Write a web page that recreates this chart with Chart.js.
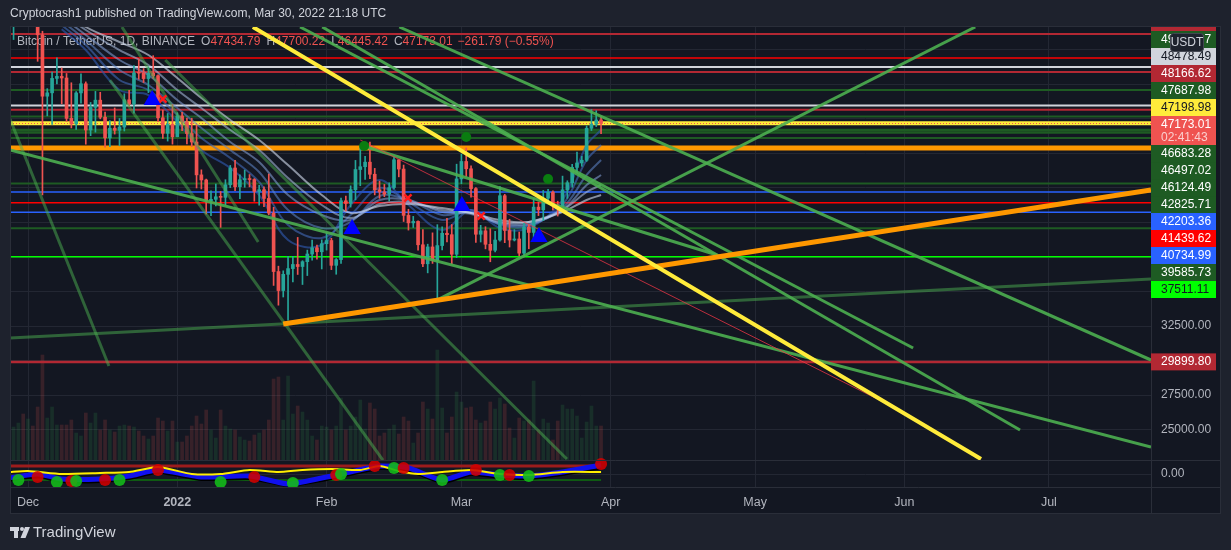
<!DOCTYPE HTML>
<html>
<head>
	<meta charset="utf-8">
	<title>BTCUSDT 1D</title>
	<script src="https://cdn.jsdelivr.net/npm/chart.js@4.4.1/dist/chart.umd.min.js"></script>
	<style>
		html, body { margin: 0; padding: 0; background: #1e222d; overflow: hidden; }
	</style>
</head>

<body>
	<canvas id="myChart" width="1231" height="550"></canvas>
	<script>
		// day 0 = 1 Dec 2021, first candle 27 Nov 2021
		const firstDay = -4;
		const opens = [53727, 54721, 57274, 57776,
			56950, 57184, 56480, 53601, 49152, 49396, 50441, 50588, 50471, 47545, 47140, 49389, 50053, 46702, 48343, 48864,
			47632, 46131, 46834, 46681, 46914, 48889, 48588, 50838, 50821, 50429, 50809, 50640, 47588, 46464, 47120,
			46216, 47722, 47286, 46446, 45832, 43451, 43082, 41566, 41679, 41864, 41822, 42735, 43949, 42591, 43099, 43177,
			43113, 42250, 42375, 41744, 40681, 36446, 35071, 36244, 36660, 36958, 36810, 37160, 37716, 38166, 37881,
			38466, 38694, 36896, 37311, 41574, 41382, 42380, 43839, 44042, 44372, 43495, 42373, 42217, 42053, 42535, 44544,
			43873, 40515, 39974, 40079, 38386, 37008, 38230, 37250, 38327, 39219, 39116, 37699,
			43160, 44421, 43892, 42454, 39148, 39397, 38420, 37988, 38730, 41941, 39422, 38729, 38807, 37777, 39671, 39280,
			41114, 40917, 41757, 42201, 41262, 41002, 42364, 42882, 43991, 44313, 44511, 46827, 47122, 47434];
		const highs = [55329, 57445, 58865, 59176,
			59041, 57400, 57600, 53859, 49699, 50900, 51936, 51200, 50797, 50125, 49485, 50777, 50189, 48700, 49500, 49436,
			48004, 47392, 48300, 47537, 49328, 49576, 51375, 51810, 51156, 51280, 52088, 50704, 48139, 47900, 48548,
			47954, 47990, 47570, 47557, 47070, 43816, 43145, 42300, 42786, 42248, 43100, 44135, 44500, 43448, 43800, 43475,
			43180, 42691, 42579, 43505, 41100, 36835, 36499, 37550, 37545, 38919, 37234, 38000, 38720, 38359, 38744,
			39265, 38855, 37387, 41772, 41913, 42656, 44500, 45492, 44799, 45821, 43920, 43000, 42760, 42876, 44751, 44549,
			44164, 40959, 40444, 40125, 39494, 38429, 39249, 39843, 39683, 40300, 39855, 44225,
			44949, 45400, 44101, 42527, 39794, 39693, 39547, 39362, 42594, 42039, 40236, 39486, 39310, 39947, 39856, 41720,
			41478, 42325, 42400, 42296, 41544, 43361, 43025, 44220, 45094, 44792, 46999, 48190, 48096, 47700];
		const lows = [53668, 53256, 56666, 55875,
			56458, 55837, 51680, 42000, 47727, 47100, 50039, 48600, 47320, 46852, 46751, 48638, 45672, 46290, 46547, 47511,
			45456, 45500, 46406, 45558, 46630, 48421, 47920, 50384, 50142, 49412, 50449, 47313, 46096, 45900, 45678,
			46208, 46654, 45696, 45500, 42500, 42430, 40610, 40501, 41200, 39650, 41268, 42528, 42311, 41725, 42555, 42581,
			41540, 41250, 41138, 40553, 35440, 34008, 34601, 32917, 35701, 36234, 35507, 36155, 37268, 37351, 36632,
			38000, 36586, 36250, 37026, 40843, 41116, 41645, 42666, 43117, 43174, 42000, 41748, 41870, 41570, 42427, 43307,
			40073, 39450, 39639, 38000, 36800, 36350, 37036, 34322, 38014, 38600, 37000, 37450,
			42809, 43334, 41832, 38550, 38585, 38088, 37155, 37867, 38656, 38540, 38223, 38660, 37578, 37555, 38098, 38828,
			40500, 40135, 41499, 40911, 40467, 40875, 41751, 42560, 43579, 44071, 44422, 46663, 46950, 46445];
		const closes = [54721, 57274, 57776, 56950,
			57184, 56480, 53601, 49152, 49396, 50441, 50588, 50471, 47545, 47140, 49389, 50053, 46702, 48343, 48864, 47632,
			46131, 46834, 46681, 46914, 48889, 48588, 50838, 50821, 50429, 50809, 50640, 47588, 46464, 47120, 46216,
			47722, 47286, 46446, 45832, 43451, 43082, 41566, 41679, 41864, 41822, 42735, 43949, 42591, 43099, 43177, 43113,
			42250, 42375, 41744, 40681, 36446, 35071, 36244, 36660, 36958, 36810, 37160, 37716, 38166, 37881, 38466,
			38694, 36896, 37311, 41574, 41382, 42380, 43839, 44042, 44372, 43495, 42373, 42217, 42053, 42535, 44544, 43873,
			40515, 39974, 40079, 38386, 37008, 38230, 37250, 38327, 39219, 39116, 37699, 43160,
			44421, 43892, 42454, 39148, 39397, 38420, 37988, 38730, 41941, 39422, 38729, 38807, 37777, 39671, 39280, 41114,
			40917, 41757, 42201, 41262, 41002, 42364, 42882, 43991, 44313, 44511, 46827, 47122, 47434, 47173.01];
		const volumes = [35, 33, 37, 46, 41, 34, 53, 105, 42, 53, 35, 35, 35, 40, 27, 24, 47, 37, 47, 30, 40, 30, 28, 34, 35,
			34, 33, 29, 24, 21, 24, 42, 39, 29, 39, 18, 18, 24, 34, 44, 36, 50, 30, 22, 50, 34, 31, 30, 23, 20, 19, 25,
			27, 30, 40, 81, 83, 40, 84, 46, 54, 48, 40, 24, 20, 34, 33, 30, 34, 62, 30, 34, 43, 60, 31, 57, 51, 24, 27,
			31, 35, 26, 43, 39, 17, 27, 58, 51, 41, 110, 52, 27, 43, 68, 58, 52, 53, 40, 37, 39, 58, 51, 62, 56, 32, 22,
			42, 39, 40, 79, 30, 41, 37, 20, 39, 55, 51, 51, 44, 22, 38, 54, 34, 34];

		const monthDays = [0, 31, 62, 90, 121, 151, 182, 212];
		const monthLabels = ['Dec', '2022', 'Feb', 'Mar', 'Apr', 'May', 'Jun', 'Jul'];
		const gridPrices = [25000, 27500, 30000, 32500, 35000, 37500, 40000, 42500, 45000, 47500, 50000, 52500];
		const shownTicks = [25000, 27500, 32500];

		// horizontal levels
		const levelPrices = [53659.40, 51920.15, 51267.33, 50905.88, 49601.07, 48478.49, 48166.62, 47687.98, 47198.98,
			46683.28, 46497.02, 46124.49, 45398.00, 42825.71, 42203.36, 41439.62, 40734.99, 39585.73, 37511.11, 29899.80];
		const levelColors = ['#b22833', '#ff0000', '#d1d4dc', '#b22833', '#1e5b23', '#d1d4dc', '#b22833', '#1e5b23', '#ffeb3b',
			'#1e5b23', '#1e5b23', '#1e5b23', '#ff9800', '#1e5b23', '#2962ff', '#ff0000', '#2962ff', '#1e5b23', '#00ff00', '#b22833'];
		const levelWidths = [2, 1.5, 2, 2, 2, 2, 2, 2, 4, 3, 2, 2, 5, 2, 1.5, 1.5, 1.5, 2, 1.5, 2.5];
		const levelLabelled = [1, 1, 1, 1, 1, 1, 1, 1, 1, 1, 1, 1, 0, 1, 1, 1, 1, 1, 1, 1];
		const lastPrice = 47173.01;
		const countdown = '02:41:43';

		// drawn trend lines: [day, price] end points
		const greenLines = [
			[[84.9, 34380], [196.7, 54166]],
			[[77.1, 54166], [233.2, 30036]],
			[[56.5, 54166], [183.8, 30906]],
			[[61.1, 54166], [206.0, 24964]],
			[[69.6, 45543], [143.1, 37645]],
			[[-3.74, 45253], [233.2, 23732]]
		];
		const dimGreenLines = [
			[[-3.74, 47499], [16.8, 29602]],
			[[17.0, 50325], [73.7, 22789]],
			[[19.5, 54166], [47.8, 38587]],
			[[28.5, 51774], [111.9, 22862]],
			[[-3.74, 31631], [233.2, 35906]]
		];
		const yellowLine = [[46.7, 54166], [197.9, 22861]];
		const orangeLine = [[53, 32645], [233.2, 42354]];
		const redLine = [[69, 45977], [180.1, 26557]];

		// moving average ribbon
		const ribbonDays = [7, 12, 19, 25, 31, 36, 42, 48, 54, 61, 67, 73, 79, 86, 92, 98, 104, 111, 116, 119];
		const ribbon1 = [55500, 54166, 53079, 52137, 50470, 49021, 47427, 45978, 44166, 41992, 40688, 41195, 41340, 41050, 40688, 40181, 40036, 40760, 41630, 41992];
		const ribbon2 = [55200, 53948, 52499, 51412, 49601, 48296, 46702, 45253, 43224, 41268, 40326, 41340, 41485, 40905, 40688, 40036, 40036, 40905, 42210, 42717];
		const ribbon3 = [54900, 53586, 51774, 50688, 48876, 47572, 45833, 44383, 41992, 40543, 40181, 41630, 41630, 40760, 40616, 39963, 39891, 40905, 42717, 43442];
		const ribbon4 = [54600, 53224, 51050, 49963, 48296, 46847, 45253, 43659, 40905, 39601, 40036, 41920, 41630, 40543, 40760, 39891, 39818, 41050, 43442, 44528];
		const ribbon5 = [54300, 52861, 50325, 49601, 47789, 46122, 44673, 42934, 39818, 38877, 40543, 42500, 41485, 40181, 40905, 39818, 39746, 41268, 44528, 45615];
		const ribbon6 = [54000, 52499, 49601, 49238, 47282, 45253, 43949, 41992, 38732, 38370, 41268, 43079, 41268, 39456, 40905, 39601, 39601, 41630, 45615, 46702];

		// signals
		const buyDays = [25.8, 67.3, 90.1, 106.1];
		const buyPrices = [48876, 39528, 41195, 38948];
		const sellDays = [28, 78.9, 94.1];
		const sellPrices = [48948, 41774, 40470];
		const dotDays = [69.8, 91, 108];
		const dotPrices = [45543, 46195, 43151];

		// lower oscillator
		const oscDays = [-4, 0, 7, 15, 21, 27, 34, 40, 46, 52, 57, 63, 69, 73, 77, 81, 86, 92, 98, 104, 111, 119];
		const oscYellow = [2, 3, 0, 1, 2, 7, 0, 0, 4, 2, 4, 5, 4, 8, 3, 0, 2, 4, 0, -1, 2, 2];
		const waveDays = [-4, 2, 7, 15, 21, 27, 36, 46, 54, 61, 66, 73, 79, 86, 92, 98, 104, 111, 119];
		const waveBlue = [-4, 0, -5, -5, -2, 4, -3, -2, -10, -4, 1, 8, 6, -6, 2, -1, -2, 2, 9];
		const waveBlack = [-7, -3, -8, -8, -5, 1, -6, -5, -12, -7, -2, 5, 3, -9, -1, -4, -5, -1, 6];
		const crossDays = [-2, 2, 6, 9, 10, 16, 19, 27, 40, 47, 55, 64, 65, 72, 76, 78, 86, 93, 98, 100, 104, 119];
		const crossVals = [-6, -3, -8, -7, -7, -6, -6, 4, -8, -3, -9, -1, 0, 8, 6, 6, -6, 4, -1, -1, -2, 10];
		const crossUp = [1, 0, 1, 0, 1, 0, 1, 0, 1, 0, 1, 0, 1, 0, 1, 0, 1, 0, 1, 0, 1, 0];
		const oscUpper = 8;
		const oscLower = -6;

		const xMin = -3.74, xMax = 233.2;
		const yMin = 20834, yMax = 54166;
		const gridColor = '#232733';
		const upColor = '#26a69a', downColor = '#ef5350';
		const fontFamily = '"Liberation Sans", Arial, sans-serif';

		const candleDays = opens.map((o, i) => firstDay + i);
		const isUp = closes.map((c, i) => c >= opens[i]);
		const pts = arr => arr.map(p => ({x: p[0], y: p[1]}));
		const zip = (xs, ys) => xs.map((x, i) => ({x: x, y: ys[i]}));

		function seg(points, color, width, order, axis) {
			return {
				type: 'line', data: pts(points), yAxisID: axis || 'y',
				borderColor: color, borderWidth: width, pointRadius: 0,
				fill: false, tension: 0, order: order, borderCapStyle: 'butt'
			};
		}

		let datasets = [];

		// volume
		datasets.push({
			type: 'bar', yAxisID: 'yv', grouped: false, barThickness: 3, order: 100,
			data: zip(candleDays, volumes),
			backgroundColor: isUp.map(u => u ? 'rgba(56,160,80,0.17)' : 'rgba(239,83,80,0.17)')
		});

		levelPrices.forEach((p, i) => {
			datasets.push(seg([[xMin, p], [xMax, p]], levelColors[i], levelWidths[i], 90));
		});
		let lastLine = seg([[xMin, lastPrice], [xMax, lastPrice]], '#ef5350', 1, 89);
		lastLine.borderDash = [1, 2];
		datasets.push(lastLine);

		const ribbons = [ribbon1, ribbon2, ribbon3, ribbon4, ribbon5, ribbon6];
		const ribbonColors = ['rgba(214,224,242,0.6)', 'rgba(176,196,232,0.55)', 'rgba(136,166,222,0.55)',
			'rgba(96,136,206,0.55)', 'rgba(66,106,186,0.6)', 'rgba(46,86,170,0.65)'];
		ribbons.forEach((r, i) => {
			datasets.push({
				type: 'line', data: zip(ribbonDays, r), borderColor: ribbonColors[i], borderWidth: 2,
				pointRadius: 0, fill: false, tension: 0.35, order: 80
			});
		});

		// candles
		datasets.push({
			type: 'bar', grouped: false, barThickness: 1, order: 71,
			data: candleDays.map((d, i) => ({x: d, y: [lows[i], highs[i]]})),
			backgroundColor: isUp.map(u => u ? upColor : downColor)
		});
		datasets.push({
			type: 'bar', grouped: false, barThickness: 3, minBarLength: 1, order: 70,
			data: candleDays.map((d, i) => ({x: d, y: [opens[i], closes[i]]})),
			backgroundColor: isUp.map(u => u ? upColor : downColor)
		});

		greenLines.forEach(l => datasets.push(seg(l, 'rgba(76,175,80,0.9)', 3, 60)));
		dimGreenLines.forEach(l => datasets.push(seg(l, 'rgba(76,175,80,0.5)', 3, 61)));
		datasets.push(seg(redLine, 'rgba(242,54,69,0.75)', 1, 59));
		datasets.push(seg(orangeLine, '#ff9800', 5, 58));
		datasets.push(seg(yellowLine, '#ffeb3b', 4, 57));

		datasets.push({
			type: 'line', showLine: false, data: zip(buyDays, buyPrices), order: 50,
			pointStyle: 'triangle', pointRadius: 10, pointBackgroundColor: '#0000ff', pointBorderColor: '#0000ff', pointBorderWidth: 0
		});
		datasets.push({
			type: 'line', showLine: false, data: zip(sellDays, sellPrices), order: 50,
			pointStyle: 'crossRot', pointRadius: 5, pointBorderColor: '#ff1a1a', pointBorderWidth: 2.5
		});
		datasets.push({
			type: 'line', showLine: false, data: zip(dotDays, dotPrices), order: 50,
			pointStyle: 'circle', pointRadius: 5, pointBackgroundColor: '#0a7d10', pointBorderWidth: 0
		});

		// oscillator pane
		datasets.push(seg([[xMin, oscUpper], [119, oscUpper]], '#9c1c1c', 3, 45, 'yo'));
		datasets.push(seg([[xMin, oscLower], [119, oscLower]], '#0f5a12', 2, 45, 'yo'));
		datasets.push({
			type: 'line', yAxisID: 'yo', data: zip(waveDays, waveBlack), borderColor: '#000000', borderWidth: 2,
			pointRadius: 0, tension: 0.2, order: 42
		});
		datasets.push({
			type: 'line', yAxisID: 'yo', data: zip(waveDays, waveBlue), borderColor: '#1010ee', borderWidth: 5,
			pointRadius: 0, tension: 0.2, order: 41
		});
		datasets.push({
			type: 'line', yAxisID: 'yo', data: zip(oscDays, oscYellow), borderColor: '#ffee00', borderWidth: 2,
			pointRadius: 0, tension: 0.2, order: 40
		});
		datasets.push({
			type: 'line', yAxisID: 'yo', showLine: false, data: zip(crossDays, crossVals), order: 30,
			pointStyle: 'circle', pointRadius: 6, pointBorderWidth: 0,
			pointBackgroundColor: crossUp.map(u => u ? 'rgba(20,185,25,0.9)' : 'rgba(210,0,0,0.88)')
		});

		function drawLabels(chart) {
			const ctx = chart.ctx;
			const ys = chart.scales.y;
			const left = ys.left;
			const h = 17;
			let labels = [];
			levelPrices.forEach((p, i) => {
				if (levelLabelled[i]) labels.push({price: p, bg: levelColors[i]});
			});
			labels.push({price: lastPrice, bg: '#ef5350', current: true});
			labels.sort((a, b) => b.price - a.price);
			labels.forEach(l => { l.y = ys.getPixelForValue(l.price); l.h = l.current ? 29 : h; });
			const a = labels.findIndex(l => l.current);
			labels[a].top = labels[a].y - 7.5;
			let prevTop = labels[a].top;
			for (let i = a - 1; i >= 0; i--) {
				labels[i].top = Math.min(labels[i].y - h / 2, prevTop - h);
				prevTop = labels[i].top;
			}
			let prevBot = labels[a].top + labels[a].h;
			for (let i = a + 1; i < labels.length; i++) {
				labels[i].top = Math.max(labels[i].y - h / 2, prevBot);
				prevBot = labels[i].top + h;
			}
			ctx.save();
			ctx.beginPath();
			ctx.rect(left, chart.chartArea.top, 70, 433);
			ctx.clip();
			ctx.font = '12px ' + fontFamily;
			ctx.textBaseline = 'middle';
			ctx.textAlign = 'left';
			labels.forEach(l => {
				ctx.fillStyle = l.bg;
				ctx.fillRect(left, l.top, 65, l.h);
				const light = ['#d1d4dc', '#ffeb3b', '#00ff00'].includes(l.bg);
				ctx.fillStyle = light ? '#131722' : '#ffffff';
				ctx.fillText(l.price.toFixed(2), left + 10, l.top + 8.5);
				if (l.current) {
					ctx.fillStyle = 'rgba(255,255,255,0.72)';
					ctx.fillText(countdown, left + 10, l.top + 22);
				}
			});
			ctx.restore();

			// currency tag
			ctx.save();
			ctx.fillStyle = '#1e222d';
			ctx.strokeStyle = '#434651';
			ctx.lineWidth = 1;
			ctx.beginPath();
			ctx.roundRect(left + 19.5, chart.chartArea.top + 6.5, 33, 18, 3);
			ctx.fill();
			ctx.stroke();
			ctx.fillStyle = '#d1d4dc';
			ctx.font = '12px ' + fontFamily;
			ctx.textBaseline = 'middle';
			ctx.textAlign = 'center';
			ctx.fillText('USDT', left + 36, chart.chartArea.top + 16);
			ctx.restore();
		}

		const tvDeco = {
			id: 'tvDeco',
			beforeDraw(chart) {
				const ctx = chart.ctx;
				ctx.save();
				ctx.fillStyle = '#1e222d';
				ctx.fillRect(0, 0, chart.width, chart.height);
				ctx.fillStyle = '#131722';
				ctx.fillRect(10, 26, 1211, 488);
				ctx.restore();
			},
			beforeDatasetsDraw(chart) {
				const ctx = chart.ctx;
				const area = chart.chartArea;
				const zeroY = chart.scales.yo.getPixelForValue(0);
				ctx.save();
				ctx.strokeStyle = gridColor;
				ctx.lineWidth = 1;
				ctx.beginPath();
				ctx.moveTo(area.left, Math.round(zeroY) + 0.5);
				ctx.lineTo(area.right, Math.round(zeroY) + 0.5);
				ctx.stroke();
				// legend line
				ctx.font = '12px ' + fontFamily;
				ctx.textBaseline = 'middle';
				let x = 17;
				const y = 42;
				const parts = [
					['Bitcoin / TetherUS, 1D, BINANCE', '#b2b5be', 6],
					['O', '#b2b5be', 0], ['47434.79', '#ef5350', 6],
					['H', '#b2b5be', 0], ['47700.22', '#ef5350', 6],
					['L', '#b2b5be', 0], ['46445.42', '#ef5350', 6],
					['C', '#b2b5be', 0], ['47173.01', '#ef5350', 5],
					['\u2212261.79 (\u22120.55%)', '#ef5350', 0]
				];
				parts.forEach(p => {
					ctx.fillStyle = p[1];
					ctx.fillText(p[0], x, y);
					x += ctx.measureText(p[0]).width + p[2];
				});
				ctx.restore();
			},
			afterDraw(chart) {
				const ctx = chart.ctx;
				const area = chart.chartArea;
				const ys = chart.scales.y;
				const paneBottom = chart.scales.yv.getPixelForValue(0);
				ctx.save();
				ctx.strokeStyle = '#2a2e39';
				ctx.lineWidth = 1;
				ctx.beginPath();
				ctx.moveTo(area.left, Math.round(paneBottom) + 0.5);
				ctx.lineTo(1221, Math.round(paneBottom) + 0.5);
				ctx.moveTo(area.left, area.bottom + 0.5);
				ctx.lineTo(1221, area.bottom + 0.5);
				ctx.moveTo(area.right + 0.5, 26);
				ctx.lineTo(area.right + 0.5, 514);
				ctx.stroke();
				ctx.strokeRect(10.5, 26.5, 1210, 487);
				ctx.restore();

				drawLabels(chart);

				ctx.save();
				ctx.font = '12px ' + fontFamily;
				ctx.fillStyle = '#b2b5be';
				ctx.textBaseline = 'middle';
				ctx.fillText('0.00', ys.left + 10, chart.scales.yo.getPixelForValue(0));

				ctx.font = '12px ' + fontFamily;
				ctx.fillStyle = '#d1d4dc';
				ctx.fillText('Cryptocrash1 published on TradingView.com, Mar 30, 2022 21:18 UTC', 10, 14);

				// logo
				ctx.fillStyle = '#d1d4dc';
				ctx.fillRect(10, 527, 9, 4);
				ctx.fillRect(14, 527, 4, 11);
				ctx.beginPath();
				ctx.arc(22, 529, 2, 0, Math.PI * 2);
				ctx.fill();
				ctx.beginPath();
				ctx.moveTo(25, 527);
				ctx.lineTo(30, 527);
				ctx.lineTo(25.5, 538);
				ctx.lineTo(20.5, 538);
				ctx.closePath();
				ctx.fill();
				ctx.font = '15px ' + fontFamily;
				ctx.fillText('TradingView', 33, 533);
				ctx.restore();
			}
		};

		const config = {
			type: 'bar',
			data: { datasets: datasets },
			options: {
				responsive: false,
				animation: false,
				devicePixelRatio: 1,
				layout: { padding: { left: 10, right: 10, top: 27, bottom: 36 }, autoPadding: false },
				plugins: { legend: { display: false }, tooltip: { enabled: false } },
				events: [],
				scales: {
					x: {
						type: 'linear', min: xMin, max: xMax, offset: false,
						grid: { color: gridColor, drawTicks: false, offset: false },
						border: { display: false },
						afterBuildTicks: s => { s.ticks = monthDays.map(v => ({value: v})); },
						afterFit: s => { s.height = 27; },
						ticks: {
							color: '#b2b5be', padding: 8, maxRotation: 0, autoSkip: false,
							callback: v => monthLabels[monthDays.indexOf(v)],
							font: ctx => ({ family: fontFamily, size: 12.5, weight: ctx.tick && ctx.tick.value === 31 ? 'bold' : 'normal' })
						}
					},
					y: {
						type: 'linear', position: 'right', min: yMin, max: yMax,
						afterBuildTicks: s => { s.ticks = gridPrices.map(v => ({value: v})); },
						afterFit: s => { s.width = 70; },
						grid: { color: gridColor, drawTicks: false },
						border: { display: false },
						ticks: {
							color: '#b2b5be', padding: 10, font: { family: fontFamily, size: 12 },
							callback: v => shownTicks.includes(v) ? v.toFixed(2) : ''
						}
					},
					yv: { type: 'linear', display: false, min: -27, max: 433 },
					yo: { type: 'linear', display: false, min: -13, max: 447 }
				}
			},
			plugins: [tvDeco]
		};

		const myChart = new Chart(document.getElementById('myChart'), config);
	</script>
</body>
</html>
